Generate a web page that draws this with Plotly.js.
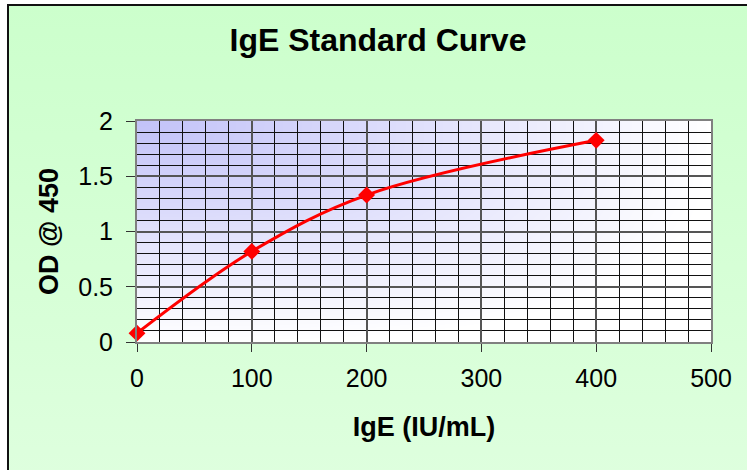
<!DOCTYPE html>
<html>
<head>
<meta charset="utf-8">
<script src="https://cdn.plot.ly/plotly-3.0.1.min.js"></script>
<style>
  html, body { margin: 0; padding: 0; background: #ffffff; width: 747px; height: 470px; overflow: hidden; }
  #frame { position: absolute; left: 7px; top: 4px; width: 745px; height: 470px;
           border-left: 2px solid #111; border-top: 2px solid #111;
           background: linear-gradient(to bottom, #CCFFCC 0%, #DEFFDE 100%); }
  #chart { position: absolute; left: 0; top: 0; width: 747px; height: 470px; }
</style>
</head>
<body>
<div id="frame"></div>
<div id="chart"></div>
<script>
// ---- data ----
const chartTitle = 'IgE Standard Curve';
const xTitle = 'IgE (IU/mL)';
const yTitle = 'OD @ 450';
const igeConcentration = [0, 100, 200, 400];
const odValues = [0.08, 0.82, 1.33, 1.825];
const xTickValues = [0, 100, 200, 300, 400, 500];
const xTickLabels = ['0', '100', '200', '300', '400', '500'];
const yTickValues = [0, 0.5, 1, 1.5, 2];
const yTickLabels = ['0', '0.5', '1', '1.5', '2'];

// ---- plot-area background ("from corner" gradient) ----
function cornerGradient(w, h) {
  const c = document.createElement('canvas');
  c.width = w; c.height = h;
  const ctx = c.getContext('2d');
  const img = ctx.createImageData(w, h);
  const c0 = [194, 194, 248], c1 = [255, 255, 255];
  const p = 3;
  for (let y = 0; y < h; y++) {
    for (let x = 0; x < w; x++) {
      let t = Math.pow(Math.pow(x / w, p) + Math.pow(y / h, p), 1 / p);
      if (t > 1) t = 1;
      const i = (y * w + x) * 4;
      img.data[i] = c0[0] + (c1[0] - c0[0]) * t;
      img.data[i + 1] = c0[1] + (c1[1] - c0[1]) * t;
      img.data[i + 2] = c0[2] + (c1[2] - c0[2]) * t;
      img.data[i + 3] = 255;
    }
  }
  ctx.putImageData(img, 0, 0);
  return c.toDataURL('image/png');
}

const FONT = '"Liberation Sans", Arial, sans-serif';

const trace = {
  x: igeConcentration,
  y: odValues,
  type: 'scatter',
  mode: 'lines+markers',
  line: { color: '#FF0000', width: 3, shape: 'spline', smoothing: 1 },
  marker: { symbol: 'diamond', size: 13, color: '#FF0000', line: { width: 0 } },
  cliponaxis: false,
  hoverinfo: 'x+y'
};

const layout = {
  width: 747,
  height: 470,
  margin: { l: 137, r: 36, t: 121, b: 128, pad: 0 },
  paper_bgcolor: 'rgba(0,0,0,0)',
  plot_bgcolor: '#ffffff',
  showlegend: false,
  font: { family: FONT, color: '#000000', size: 25 },
  title: {
    text: '<b>' + chartTitle + '</b>',
    font: { family: FONT, size: 32, color: '#000000' },
    xref: 'container', yref: 'container',
    x: 0.506, xanchor: 'center',
    y: 0.916, yanchor: 'middle'
  },
  xaxis: {
    range: [0, 500],
    tickvals: xTickValues,
    ticktext: xTickLabels,
    ticks: 'outside', ticklen: 8, tickwidth: 1, tickcolor: '#333333',
    ticklabelstandoff: 5,
    tickfont: { family: FONT, size: 25, color: '#000000' },
    showline: true, linecolor: '#808080', linewidth: 2, mirror: true,
    showgrid: true, gridcolor: '#555555', gridwidth: 2,
    minor: { dtick: 20, tick0: 0, showgrid: true, gridcolor: '#111111', gridwidth: 1 },
    zeroline: false,
    fixedrange: true,
    title: { text: '<b>' + xTitle + '</b>', font: { family: FONT, size: 27, color: '#000000' }, standoff: 26 }
  },
  yaxis: {
    range: [0, 2],
    tickvals: yTickValues,
    ticktext: yTickLabels,
    ticks: 'outside', ticklen: 9, tickwidth: 1, tickcolor: '#333333',
    ticklabelstandoff: 8,
    tickfont: { family: FONT, size: 25, color: '#000000' },
    showline: true, linecolor: '#808080', linewidth: 2, mirror: true,
    showgrid: true, gridcolor: '#555555', gridwidth: 2,
    minor: { dtick: 0.1, tick0: 0, showgrid: true, gridcolor: '#111111', gridwidth: 1 },
    zeroline: false,
    fixedrange: true,
    title: { text: '<b>' + yTitle + '</b>', font: { family: FONT, size: 27, color: '#000000' }, standoff: 12 }
  },
  images: [{
    source: cornerGradient(574, 221),
    xref: 'paper', yref: 'paper',
    x: 0, y: 1, sizex: 1, sizey: 1,
    xanchor: 'left', yanchor: 'top',
    sizing: 'stretch', layer: 'below'
  }]
};

Plotly.newPlot('chart', [trace], layout, { displayModeBar: false, staticPlot: true });
</script>
</body>
</html>
